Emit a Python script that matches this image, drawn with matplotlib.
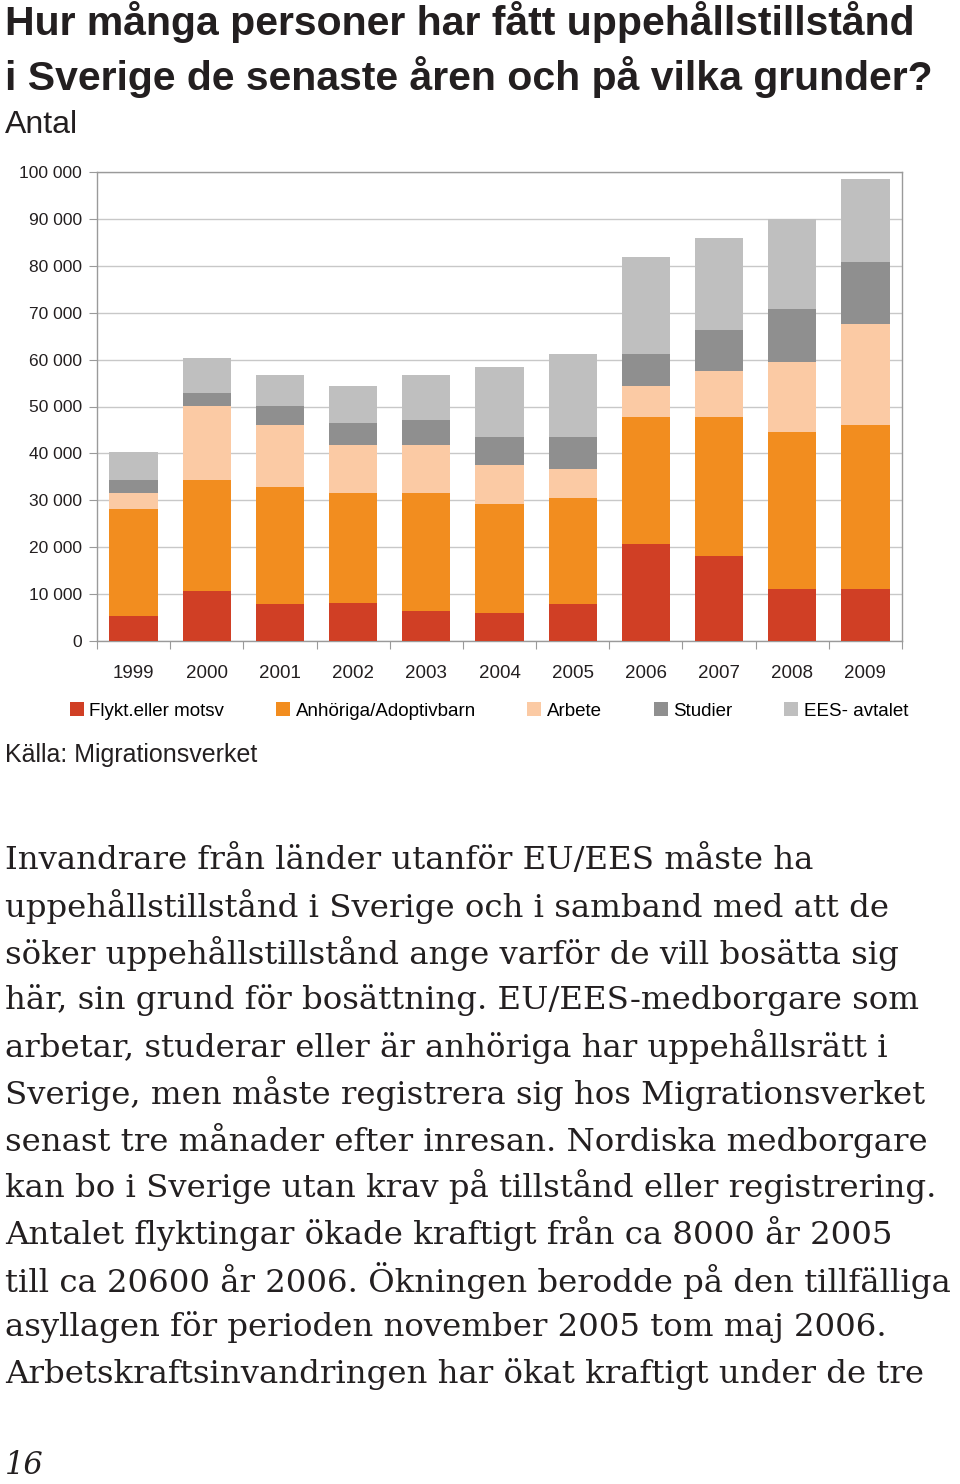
import matplotlib
matplotlib.use("Agg")
import matplotlib.pyplot as plt
from matplotlib.patches import Patch
import numpy as np

# data (antal uppehållstillstånd per grund)
years = ['1999', '2000', '2001', '2002', '2003', '2004', '2005', '2006', '2007', '2008', '2009']
flykt = [5400, 10600, 7800, 8200, 6300, 5900, 7800, 20600, 18100, 11000, 11000]
anhoriga = [22800, 23700, 25100, 23300, 25200, 23300, 22700, 27100, 29600, 33500, 35000]
arbete = [3300, 15900, 13100, 10300, 10300, 8400, 6100, 6600, 9900, 15000, 21500]
studier = [2800, 2600, 4100, 4600, 5400, 6000, 7000, 6900, 8700, 11200, 13400]
ees = [6100, 7500, 6600, 7900, 9500, 14900, 17700, 20600, 19700, 19200, 17700]

series = [flykt, anhoriga, arbete, studier, ees]
labels = ['Flykt.eller motsv', 'Anhöriga/Adoptivbarn', 'Arbete', 'Studier', 'EES- avtalet']
colors = ['#d03f25', '#f28d1f', '#fbcaa4', '#8f8f8f', '#bfbfbf']

body = [
    "Invandrare från länder utanför EU/EES måste ha",
    "uppehållstillstånd i Sverige och i samband med att de",
    "söker uppehållstillstånd ange varför de vill bosätta sig",
    "här, sin grund för bosättning. EU/EES-medborgare som",
    "arbetar, studerar eller är anhöriga har uppehållsrätt i",
    "Sverige, men måste registrera sig hos Migrationsverket",
    "senast tre månader efter inresan. Nordiska medborgare",
    "kan bo i Sverige utan krav på tillstånd eller registrering.",
    "Antalet flyktingar ökade kraftigt från ca 8000 år 2005",
    "till ca 20600 år 2006. Ökningen berodde på den tillfälliga",
    "asyllagen för perioden november 2005 tom maj 2006.",
    "Arbetskraftsinvandringen har ökat kraftigt under de tre",
]

W, H = 960, 1484
fig = plt.figure(figsize=(W / 100, H / 100), dpi=100)

def px(x, y):
    return x / W, 1 - y / H

# rubrik
fig.text(*px(5, 22), "Hur många personer har fått uppehållstillstånd",
         fontsize=29.5, fontweight='bold', family='Liberation Sans', color='#231f20', va='center')
fig.text(*px(5, 77), "i Sverige de senaste åren och på vilka grunder?",
         fontsize=29.5, fontweight='bold', family='Liberation Sans', color='#231f20', va='center')
fig.text(*px(5, 125), "Antal", fontsize=23, family='Liberation Sans', color='#231f20', va='center')

# diagram
left, right, top, bottom = 97, 902, 172, 641
ax = fig.add_axes([left / W, 1 - bottom / H, (right - left) / W, (bottom - top) / H])
x = np.arange(len(years))
base = np.zeros(len(years))
for vals, c in zip(series, colors):
    ax.bar(x, vals, bottom=base, width=0.66, color=c, zorder=3)
    base += np.array(vals)

ax.set_xlim(-0.5, len(years) - 0.5)
ax.set_ylim(0, 100000)
ax.set_yticks(np.arange(0, 100001, 10000))
ax.set_yticklabels([f"{v:,}".replace(",", " ") for v in range(0, 100001, 10000)],
                   fontsize=12.5, family='Liberation Sans', color='#231f20')
ax.yaxis.grid(True, color='#c8c8c8', lw=1, zorder=0)
ax.tick_params(axis='y', length=6, color='#9a9a9a', pad=5)
ax.set_xticks(np.arange(-0.5, len(years), 1))
ax.set_xticklabels([])
ax.set_xticks(x, minor=True)
ax.set_xticklabels(years, minor=True, fontsize=13.5, family='Liberation Sans', color='#231f20')
ax.tick_params(axis='x', which='major', length=6, color='#9a9a9a')
ax.tick_params(axis='x', which='minor', length=0, pad=17)
for s in ax.spines.values():
    s.set_color('#9a9a9a')
    s.set_linewidth(1)

handles = [Patch(facecolor=c, edgecolor='none') for c in colors]
fig.legend(handles, labels, loc='center', bbox_to_anchor=px(489, 711), ncol=5,
           frameon=False, handlelength=0.75, handleheight=0.75, handletextpad=0.3,
           columnspacing=2.75, prop={'family': 'Liberation Sans', 'size': 13.5})

fig.text(*px(5, 755), "Källa: Migrationsverket", fontsize=18, family='Liberation Sans',
         color='#231f20', va='center')

# brödtext
for i, line in enumerate(body):
    fig.text(*px(5, 860 + i * 46.7), line, fontsize=23.3, family='DejaVu Serif',
             color='#231f20', va='center')

fig.text(*px(5, 1466), "16", fontsize=22, family='DejaVu Serif', style='italic',
         color='#231f20', va='center')

fig.savefig("out.png", dpi=100)
